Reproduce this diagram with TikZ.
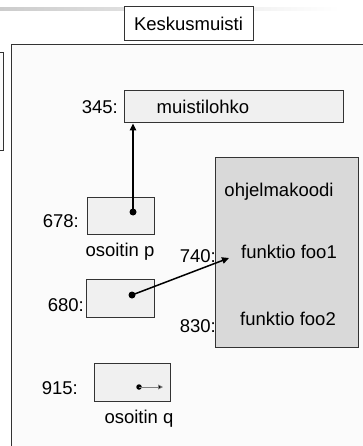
\documentclass[tikz,border=0pt]{standalone}
\usepackage{fontspec}
\setmainfont{Liberation Sans}
\usetikzlibrary{arrows.meta,calc}
\definecolor{edge}{HTML}{333333}
\definecolor{cellfill}{HTML}{F0F0F0}
\definecolor{codefill}{HTML}{D9D9D9}
\definecolor{memfill}{HTML}{FBFBFB}
\tikzset{
  txt/.style={font=\fontsize{18.5}{22}\selectfont, inner sep=0pt},
  cell/.style={draw=edge, line width=1pt, fill=cellfill, inner sep=0pt},
  dotnode/.style={circle, fill=black, inner sep=0pt, minimum size=7pt},
  ptr/.style={line width=1.5pt, -{Triangle[length=7pt,width=6.5pt]}},
}
\begin{document}
\begin{tikzpicture}[x=1pt,y=-1pt]
\useasboundingbox (0,0) rectangle (363,446);
\clip (0,0) rectangle (363,446);
% header band
\shade[left color=black!20, right color=white] (0,8) rectangle (340,11);
% left partial box
\draw[edge, line width=1pt, fill=memfill] (-10,53) rectangle (3,151);
% main memory box
\draw[edge, line width=1pt, fill=memfill] (11,45) rectangle (380,470);
% title
\node[draw=edge, line width=1pt, fill=white, minimum width=129pt, minimum height=34pt, txt] (title) at (188.5,24) {Keskusmuisti};
% memory block 345
\node[cell, minimum width=219pt, minimum height=32pt] (mem) at (233.5,107) {};
\node[txt] (memtxt) at (203,107) {muistilohko};
\node[txt, anchor=east] (l345) at (118,107) {345:};
% pointer p at 678
\node[cell, minimum width=67pt, minimum height=37pt] (pbox) at (120.5,215.5) {};
\node[txt, anchor=east] (l678) at (79,221) {678:};
\node[txt] (pname) at (120,252) {osoitin p};
\node[dotnode] (pdot) at (133,212) {};
% cell 680
\node[cell, minimum width=68pt, minimum height=38pt] (cbox) at (120,298) {};
\node[txt, anchor=east] (l680) at (84,305) {680:};
\node[dotnode] (cdot) at (132,295) {};
% program code
\node[draw=edge, line width=1pt, fill=codefill, minimum width=143pt, minimum height=189pt, inner sep=0pt] (code) at (286.5,252.5) {};
\node[txt] (codetxt) at (279,192) {ohjelmakoodi};
\node[txt] (foo1) at (289,252) {funktio foo1};
\node[txt] (foo2) at (288,319) {funktio foo2};
\node[txt, anchor=east] (l740) at (216,256) {740:};
\node[txt, anchor=east] (l830) at (216,326) {830:};
\coordinate (foo1tip) at (229,258);
% pointer q at 915
\node[cell, minimum width=76pt, minimum height=38pt] (qbox) at (132,382) {};
\node[txt, anchor=east] (l915) at (78,388) {915:};
\node[txt] (qname) at (139,419) {osoitin q};
\node[dotnode, minimum size=5.5pt] (qdot) at (139,387) {};
\coordinate (qtip) at (163,387);
% connectors
\draw[ptr] (pdot.center) -- (pdot.center |- mem.south);
\draw[ptr] (cdot.center) -- (foo1tip);
\draw[line width=0.8pt, draw=gray, -{Triangle[length=5pt,width=5pt,fill=black]}] (qdot.center) -- (qtip);
\end{tikzpicture}
\end{document}
